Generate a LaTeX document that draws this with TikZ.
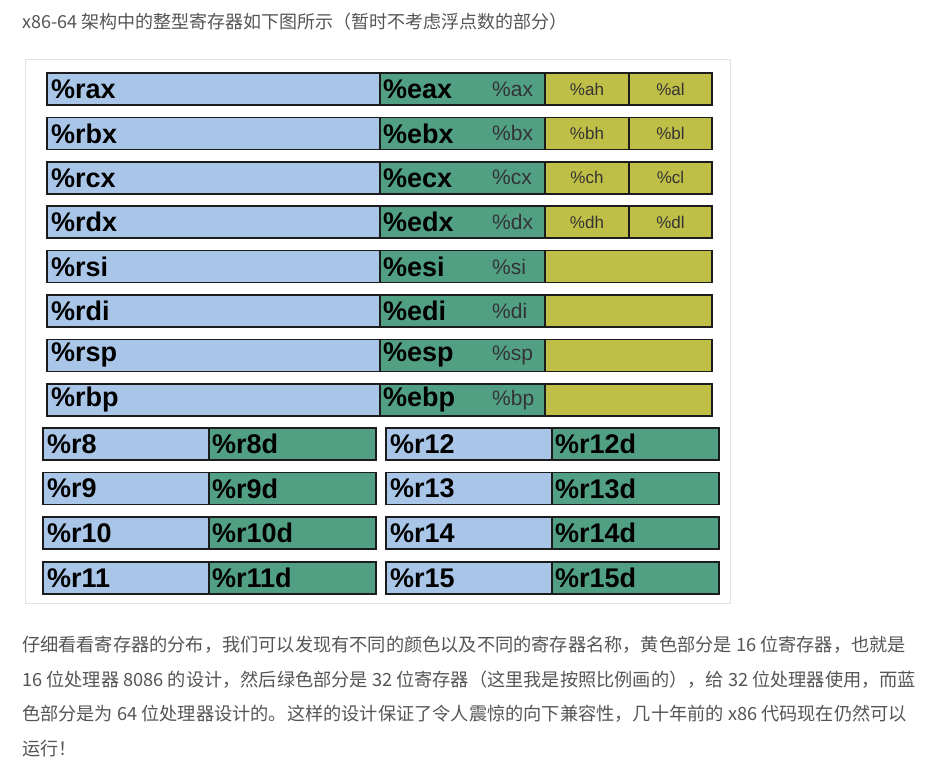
\documentclass[tikz,border=0pt]{standalone}
\usepackage{fontspec}
\setmainfont{Liberation Sans}
\newfontfamily\cjk{Noto Sans CJK SC}
\usetikzlibrary{positioning}
\definecolor{RegBlue}{HTML}{A9C6E9}
\definecolor{RegGreen}{HTML}{51A083}
\definecolor{RegYellow}{HTML}{BFBF48}
\definecolor{RegBorder}{HTML}{1C1C1C}
\definecolor{SubText}{HTML}{333333}
\definecolor{PanelGray}{HTML}{E2E2E2}
\definecolor{ProseText}{HTML}{555555}
\tikzset{
	regcell/.style={draw=RegBorder, line width=1.7pt, minimum height=32pt, inner sep=0pt, outer sep=0pt},
	quadcell/.style={regcell, fill=RegBlue, text width=325pt, inner xsep=4pt, align=left, font=\bfseries\fontsize{27}{29}\selectfont},
	dwordcell/.style={regcell, fill=RegGreen, text width=159pt, inner xsep=3pt, align=left, font=\bfseries\fontsize{27}{29}\selectfont},
	bytecell/.style={regcell, fill=RegYellow, text=SubText, font=\fontsize{17}{19}\selectfont},
	lowquad/.style={regcell, fill=RegBlue, text width=158pt, inner xsep=4pt, align=left, font=\bfseries\fontsize{27}{29}\selectfont},
	lowdword/.style={regcell, fill=RegGreen, text width=161pt, inner xsep=3pt, align=left, font=\bfseries\fontsize{27}{29}\selectfont},
	subtext/.style={anchor=west, inner sep=0pt, text=SubText, font=\fontsize{21}{23}\selectfont},
	prose/.style={anchor=west, inner sep=0pt, text=ProseText, font=\cjk\fontsize{18.2}{22}\selectfont}
}

\begin{document}
\begin{tikzpicture}[x=1pt,y=-1pt]
	\fill[white] (0,0) rectangle (935,773);
	\useasboundingbox (0,0) rectangle (935,773);

	\node[prose, font=\cjk\fontsize{18}{22}\selectfont] (title) at (22,22) {x86-64 架构中的整型寄存器如下图所示（暂时不考虑浮点数的部分）};

	\draw[PanelGray, line width=1pt] (25,60) rectangle (730,603);

	% legacy registers with byte halves
	\foreach \q/\d/\w/\h/\l [count=\i from 0] in {rax/eax/ax/ah/al, rbx/ebx/bx/bh/bl, rcx/ecx/cx/ch/cl, rdx/edx/dx/dh/dl}{
		\node[quadcell, anchor=north west] (\q) at (47,73+44.4*\i) {\%\q};
		\node[dwordcell, right=0pt of \q] (\d) {\%\d};
		\node[subtext] (\w) at ([xshift=112pt]\d.west) {\%\w};
		\node[bytecell, minimum width=84pt, right=0pt of \d] (\h) {\%\h};
		\node[bytecell, minimum width=83pt, right=0pt of \h] (\l) {\%\l};
	}
	% legacy registers without byte halves
	\foreach \q/\d/\w [count=\i from 4] in {rsi/esi/si, rdi/edi/di, rsp/esp/sp, rbp/ebp/bp}{
		\node[quadcell, anchor=north west] (\q) at (47,73+44.4*\i) {\%\q};
		\node[dwordcell, right=0pt of \q] (\d) {\%\d};
		\node[subtext] (\w) at ([xshift=112pt]\d.west) {\%\w};
		\node[bytecell, minimum width=167pt, right=0pt of \d] (w\w) {};
	}
	% r8 to r15
	\foreach \a/\b [count=\i from 0] in {8/12, 9/13, 10/14, 11/15}{
		\node[lowquad, anchor=north west] (r\a) at (43,428+44.6*\i) {\%r\a};
		\node[lowdword, right=0pt of r\a] (d\a) {\%r\a d};
		\node[lowquad, anchor=north west] (r\b) at (386,428+44.6*\i) {\%r\b};
		\node[lowdword, right=0pt of r\b] (d\b) {\%r\b d};
	}

	\node[prose] (para1) at (22,645) {仔细看看寄存器的分布，我们可以发现有不同的颜色以及不同的寄存器名称，黄色部分是 16 位寄存器，也就是};
	\node[prose] (para2) at (22,680) {16 位处理器 8086 的设计，然后绿色部分是 32 位寄存器（这里我是按照比例画的），给 32 位处理器使用，而蓝};
	\node[prose] (para3) at (22,714) {色部分是为 64 位处理器设计的。这样的设计保证了令人震惊的向下兼容性，几十年前的 x86 代码现在仍然可以};
	\node[prose] (para4) at (22,749) {运行！};
\end{tikzpicture}
\end{document}
